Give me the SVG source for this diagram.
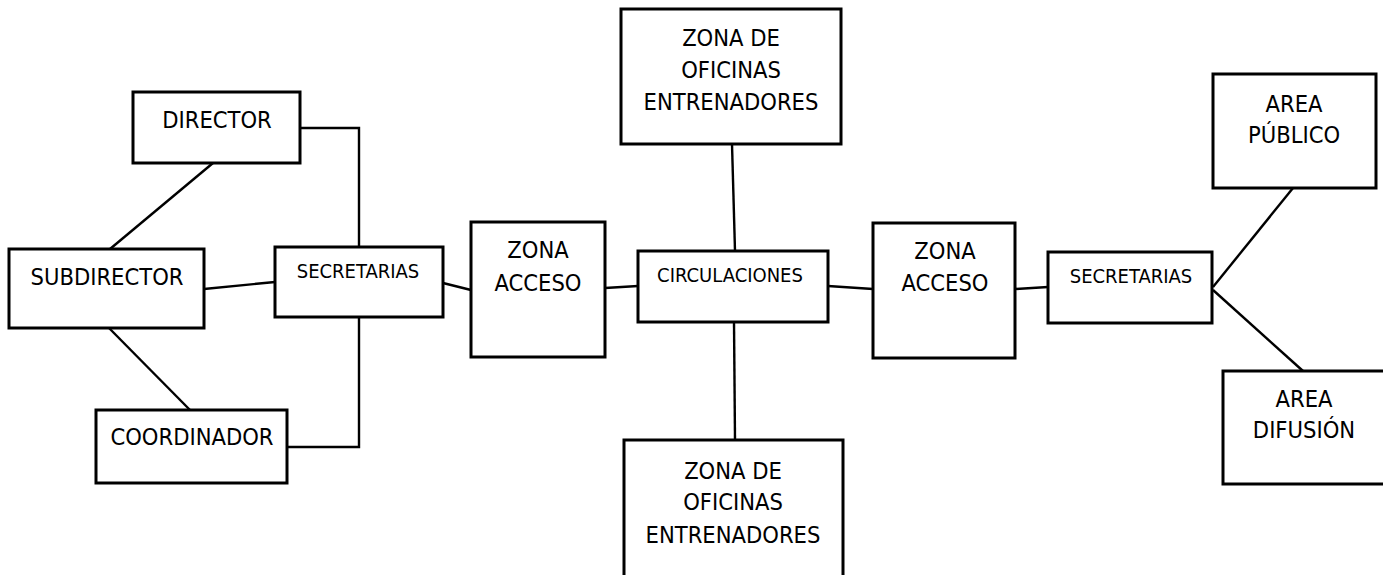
<svg xmlns="http://www.w3.org/2000/svg" width="1383" height="575" viewBox="0 0 1383 575">
<style>
.box{fill:none;stroke:#000;stroke-width:3}
.ln{fill:none;stroke:#000;stroke-width:2.4}
text{font-family:"DejaVu Sans Condensed","DejaVu Sans","Liberation Sans",sans-serif;font-stretch:condensed;font-size:23.5px;fill:#000;text-anchor:middle}
text.sm{font-size:20px}
</style>
<rect width="1383" height="575" fill="#fff"/>
<g id="connectors">
<line class="ln" x1="213" y1="163" x2="110" y2="249"/>
<polyline class="ln" points="300,128 359,128 359,247"/>
<line class="ln" x1="204" y1="289" x2="275" y2="282"/>
<line class="ln" x1="109" y1="328" x2="190" y2="410"/>
<polyline class="ln" points="359,317 359,447 287,447"/>
<line class="ln" x1="443" y1="283" x2="471" y2="290"/>
<line class="ln" x1="605" y1="288" x2="638" y2="286"/>
<line class="ln" x1="732" y1="144" x2="735" y2="251"/>
<line class="ln" x1="734" y1="322" x2="735" y2="440"/>
<line class="ln" x1="828" y1="286" x2="873" y2="289"/>
<line class="ln" x1="1015" y1="289" x2="1048" y2="287"/>
<line class="ln" x1="1213" y1="287" x2="1293" y2="188"/>
<line class="ln" x1="1213" y1="290" x2="1303" y2="371"/>
</g>
<g id="director"><rect class="box" x="133" y="92" width="167" height="71"/><text x="217" y="128">DIRECTOR</text></g>
<g id="subdirector"><rect class="box" x="9" y="249" width="195" height="79"/><text x="107" y="285">SUBDIRECTOR</text></g>
<g id="coordinador"><rect class="box" x="96" y="410" width="191" height="73"/><text x="192" y="445">COORDINADOR</text></g>
<g id="secretarias-izq"><rect class="box" x="275" y="247" width="168" height="70"/><text class="sm" x="358" y="278">SECRETARIAS</text></g>
<g id="zona-acceso-izq"><rect class="box" x="471" y="222" width="134" height="135"/><text x="538" y="258">ZONA</text><text x="538" y="291">ACCESO</text></g>
<g id="oficinas-sup"><rect class="box" x="621" y="9" width="220" height="135"/><text x="731" y="46">ZONA DE</text><text x="731" y="78">OFICINAS</text><text x="731" y="110">ENTRENADORES</text></g>
<g id="circulaciones"><rect class="box" x="638" y="251" width="190" height="71"/><text class="sm" x="730" y="282">CIRCULACIONES</text></g>
<g id="oficinas-inf"><rect class="box" x="624" y="440" width="219" height="150"/><text x="733" y="479">ZONA DE</text><text x="733" y="510">OFICINAS</text><text x="733" y="543">ENTRENADORES</text></g>
<g id="zona-acceso-der"><rect class="box" x="873" y="223" width="142" height="135"/><text x="945" y="259">ZONA</text><text x="945" y="291">ACCESO</text></g>
<g id="secretarias-der"><rect class="box" x="1048" y="252" width="164" height="71"/><text class="sm" x="1131" y="283">SECRETARIAS</text></g>
<g id="area-publico"><rect class="box" x="1213" y="74" width="163" height="114"/><text x="1294" y="112">AREA</text><text x="1294" y="143">PÚBLICO</text></g>
<g id="area-difusion"><rect class="box" x="1223" y="371" width="165" height="113"/><text x="1304" y="407">AREA</text><text x="1304" y="438">DIFUSIÓN</text></g>
</svg>
